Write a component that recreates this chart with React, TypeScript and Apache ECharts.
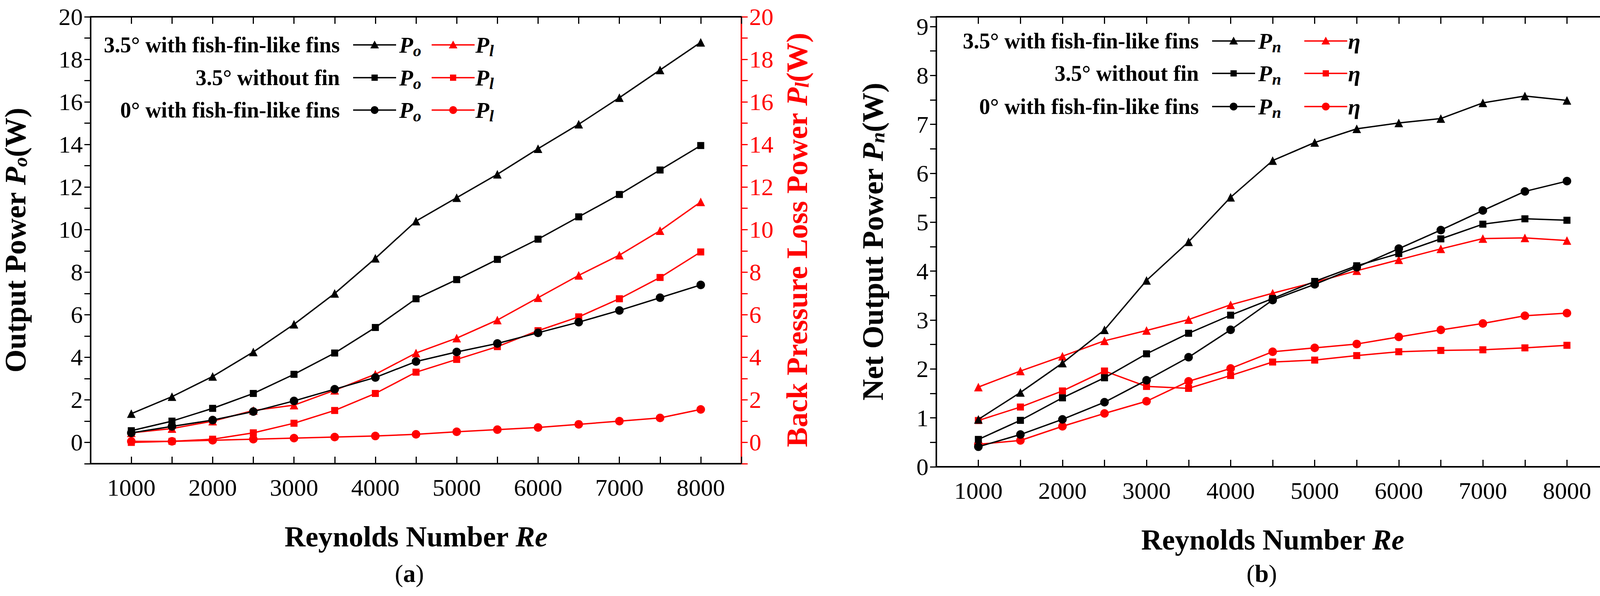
import { useEffect, useRef } from "react";
import * as echarts from "echarts";

const reynolds = ["1000", "1500", "2000", "2500", "3000", "3500", "4000", "4500", "5000", "5500", "6000", "6500", "7000", "7500", "8000"];
const reNum = reynolds.map(Number);

// panel (a)
const poFins = [1.35, 2.15, 3.1, 4.25, 5.55, 7.0, 8.65, 10.4, 11.5, 12.6, 13.8, 14.95, 16.2, 17.5, 18.8];
const poNoFin = [0.55, 1.0, 1.6, 2.3, 3.2, 4.2, 5.4, 6.75, 7.65, 8.6, 9.55, 10.6, 11.65, 12.8, 13.95];
const poZero = [0.45, 0.75, 1.05, 1.45, 1.95, 2.5, 3.05, 3.8, 4.25, 4.65, 5.15, 5.65, 6.2, 6.8, 7.4];
const plFins = [0.45, 0.65, 1.0, 1.5, 1.75, 2.45, 3.2, 4.2, 4.9, 5.75, 6.8, 7.85, 8.8, 9.95, 11.3];
const plNoFin = [0.0, 0.05, 0.15, 0.45, 0.9, 1.5, 2.3, 3.3, 3.9, 4.5, 5.25, 5.9, 6.75, 7.75, 8.95];
const plZero = [0.05, 0.05, 0.1, 0.15, 0.2, 0.25, 0.3, 0.38, 0.5, 0.6, 0.7, 0.85, 1.0, 1.15, 1.55];

// panel (b)
const pnFins = [0.97, 1.52, 2.12, 2.8, 3.81, 4.6, 5.51, 6.26, 6.63, 6.91, 7.03, 7.12, 7.44, 7.58, 7.49];
const pnNoFin = [0.56, 0.95, 1.41, 1.82, 2.31, 2.73, 3.1, 3.44, 3.79, 4.11, 4.36, 4.66, 4.96, 5.07, 5.04];
const pnZero = [0.41, 0.66, 0.97, 1.32, 1.77, 2.24, 2.8, 3.41, 3.73, 4.08, 4.46, 4.84, 5.24, 5.63, 5.84];
const etaFins = [2.24, 2.49, 2.72, 2.96, 3.12, 3.29, 3.52, 3.7, 3.87, 4.05, 4.22, 4.39, 4.55, 4.56, 4.52];
const etaNoFin = [1.72, 1.93, 2.18, 2.49, 2.25, 2.22, 2.42, 2.63, 2.66, 2.73, 2.79, 2.81, 2.82, 2.85, 2.89];
const etaZero = [1.35, 1.41, 1.63, 1.83, 2.02, 2.33, 2.53, 2.79, 2.85, 2.91, 3.02, 3.13, 3.23, 3.35, 3.39];

const legendLabels = ["3.5° with fish-fin-like fins", "3.5° without fin", "0° with fish-fin-like fins"];
const symbols = ["triangle", "rect", "circle"];

const FONT = "'Liberation Serif', 'DejaVu Serif', serif";
const RED = "#ff0000";
const TITLE = 76;

const pts = (ys: number[]) => ys.map((y, i) => [reNum[i], y]);

const line = (name: string, data: number[], color: string, sym: string, x: number, y: number) => ({
  name,
  type: "line",
  xAxisIndex: x,
  yAxisIndex: y,
  data: pts(data),
  symbol: sym,
  symbolSize: sym === "rect" ? 18 : 22,
  lineStyle: { color, width: 3.5 },
  itemStyle: { color },
  z: color === RED ? 3 : 4,
});

const xAxis = (grid: number, top: boolean) => ({
  type: "value",
  gridIndex: grid,
  position: top ? "top" : "bottom",
  min: 500,
  max: 8500,
  interval: 500,
  name: top ? "" : "Reynolds Number {i|Re}",
  nameLocation: "middle",
  nameGap: 150,
  nameTextStyle: {
    fontFamily: FONT, fontWeight: "bold", fontSize: 74, color: "#000",
    rich: { i: { fontFamily: FONT, fontWeight: "bold", fontStyle: "italic", fontSize: 74 } },
  },
  axisLine: { onZero: false, lineStyle: { color: "#000", width: 4 } },
  axisTick: { inside: true, length: 18, lineStyle: { width: 3 } },
  axisLabel: {
    show: !top,
    fontFamily: FONT, fontSize: 62, color: "#000", margin: 30,
    formatter: (v: number) => (v % 1000 === 0 && v >= 1000 && v <= 8000 ? String(v) : ""),
  },
  splitLine: { show: false },
});

const yAxis = (grid: number, pos: string, color: string, min: number, max: number, interval: number, name: string, labelFn: (v: number) => string, gap: number) => ({
  type: "value",
  gridIndex: grid,
  position: pos,
  min,
  max,
  interval,
  name,
  nameLocation: "middle",
  nameRotate: 90,
  nameGap: gap,
  nameTextStyle: {
    fontFamily: FONT, fontWeight: "bold", fontSize: TITLE, color,
    rich: {
      i: { fontFamily: FONT, fontWeight: "bold", fontStyle: "italic", fontSize: TITLE, color },
      s: { fontFamily: FONT, fontWeight: "bold", fontStyle: "italic", fontSize: 50, color, verticalAlign: "bottom" },
    },
  },
  axisLine: { show: true, onZero: false, lineStyle: { color, width: 4 } },
  axisTick: { length: 16, lineStyle: { width: 3, color } },
  axisLabel: { fontFamily: FONT, fontSize: 62, color, margin: 20, formatter: labelFn, showMaxLabel: true },
  splitLine: { show: false },
});

const evenLabel = (v: number) => (v >= 0 && Math.round(v) % 2 === 0 ? String(Math.round(v)) : "");
const intLabel = (v: number) => (Math.abs(v - Math.round(v)) < 1e-6 ? String(Math.round(v)) : "");

const subRich = (color: string) => ({
  p: { font: `italic bold 58px ${FONT}`, fill: color },
  s: { font: `italic bold 42px ${FONT}`, fill: color, verticalAlign: "bottom", padding: [30, 0, 0, 0] },
});

function legendGraphics(textRight: number, blackX: number, redX: number, rows: number[], subBlack: string, redLabel: string, redIsEta: boolean) {
  const els: any[] = [];
  rows.forEach((y, i) => {
    els.push({
      type: "text", x: textRight, y, style: {
        text: legendLabels[i], align: "right", verticalAlign: "middle",
        font: `bold 56px ${FONT}`, fill: "#000",
      },
    });
    [[blackX, "#000"], [redX, RED]].forEach(([x0, c]: any) => {
      els.push({ type: "line", shape: { x1: x0, y1: y, x2: x0 + 110, y2: y }, style: { stroke: c, lineWidth: 3.5 } });
      const cx = x0 + 55;
      if (symbols[i] === "triangle") {
        els.push({ type: "polygon", shape: { points: [[cx, y - 11], [cx - 11, y + 9], [cx + 11, y + 9]] }, style: { fill: c } });
      } else if (symbols[i] === "rect") {
        els.push({ type: "rect", shape: { x: cx - 8, y: y - 8, width: 16, height: 16 }, style: { fill: c } });
      } else {
        els.push({ type: "circle", shape: { cx, cy: y, r: 10 }, style: { fill: c } });
      }
    });
    els.push({
      type: "text", x: blackX + 118, y, style: { text: `{p|P}{s|${subBlack}}`, verticalAlign: "middle", rich: subRich("#000") },
    });
    els.push({
      type: "text", x: redX + 112, y, style: redIsEta
        ? { text: redLabel, verticalAlign: "middle", font: `italic bold 58px ${FONT}`, fill: "#000" }
        : { text: `{p|P}{s|${redLabel}}`, verticalAlign: "middle", rich: subRich("#000") },
    });
  });
  return els;
}

const sideTitle = (x: number, y: number, main: string, sym: string, sub: string, tail: string) => ({
  type: "text",
  x,
  y,
  rotation: Math.PI / 2,
  style: {
    text: `{m|${main}}{i|${sym}}${sub ? `{s|${sub}}` : ""}{m|${tail}}`,
    align: "center",
    verticalAlign: "middle",
    rich: {
      m: { font: `bold ${TITLE}px ${FONT}`, fill: RED },
      i: { font: `italic bold ${TITLE}px ${FONT}`, fill: RED },
      s: { font: `italic bold 50px ${FONT}`, fill: RED, verticalAlign: "bottom" },
    },
  },
});

export default function App() {
  const ref = useRef<HTMLDivElement>(null);

  useEffect(() => {
    if (!ref.current) return;
    const chart = echarts.init(ref.current, null, { renderer: "svg" });
    const option: any = {
      animation: false,
      backgroundColor: "#fff",
      grid: [
        { left: 216, top: 43, width: 1682, height: 1145 },
        { left: 2397, top: 43, width: 1722, height: 1153 },
      ],
      xAxis: [xAxis(0, false), xAxis(1, false), xAxis(0, true), xAxis(1, true)],
      yAxis: [
        yAxis(0, "left", "#000", -1, 20, 1, "Output Power {i|P}{s|o}(W)", evenLabel, 155),
        yAxis(0, "right", RED, -1, 20, 1, "", evenLabel, 140),
        yAxis(1, "left", "#000", 0, 9.2, 0.5, "Net Output Power {i|P}{s|n}(W)", intLabel, 125),
        yAxis(1, "right", RED, 1, 8, 0.5, "", intLabel, 110),
      ],
      series: [
        line("poFins", poFins, "#000", "triangle", 0, 0),
        line("poNoFin", poNoFin, "#000", "rect", 0, 0),
        line("poZero", poZero, "#000", "circle", 0, 0),
        line("plFins", plFins, RED, "triangle", 0, 1),
        line("plNoFin", plNoFin, RED, "rect", 0, 1),
        line("plZero", plZero, RED, "circle", 0, 1),
        line("pnFins", pnFins, "#000", "triangle", 1, 2),
        line("pnNoFin", pnNoFin, "#000", "rect", 1, 2),
        line("pnZero", pnZero, "#000", "circle", 1, 2),
        line("etaFins", etaFins, RED, "triangle", 1, 3),
        line("etaNoFin", etaNoFin, RED, "rect", 1, 3),
        line("etaZero", etaZero, RED, "circle", 1, 3),
      ],
      graphic: [
        ...legendGraphics(870, 904, 1105, [115, 199, 282], "o", "l", false),
        ...legendGraphics(3069, 3103, 3339, [105, 188, 273], "n", "η", true),
        sideTitle(2040, 615, "Back Pressure Loss Power ", "P", "l", "(W)"),
        sideTitle(4232, 620, "Efficiency ", "η", "", "(%)"),
        {
          type: "text", x: 1048, y: 1469, style: {
            text: "({b|a})", align: "center", verticalAlign: "middle",
            font: `64px ${FONT}`, fill: "#000", rich: { b: { font: `bold 64px ${FONT}`, fill: "#000" } },
          },
        },
        {
          type: "text", x: 3230, y: 1469, style: {
            text: "({b|b})", align: "center", verticalAlign: "middle",
            font: `64px ${FONT}`, fill: "#000", rich: { b: { font: `bold 64px ${FONT}`, fill: "#000" } },
          },
        },
      ],
    };
    chart.setOption(option);
    return () => chart.dispose();
  }, []);

  return <div ref={ref} style={{ position: "fixed", left: 0, top: 0, width: 4286, height: 1527 }} />;
}
